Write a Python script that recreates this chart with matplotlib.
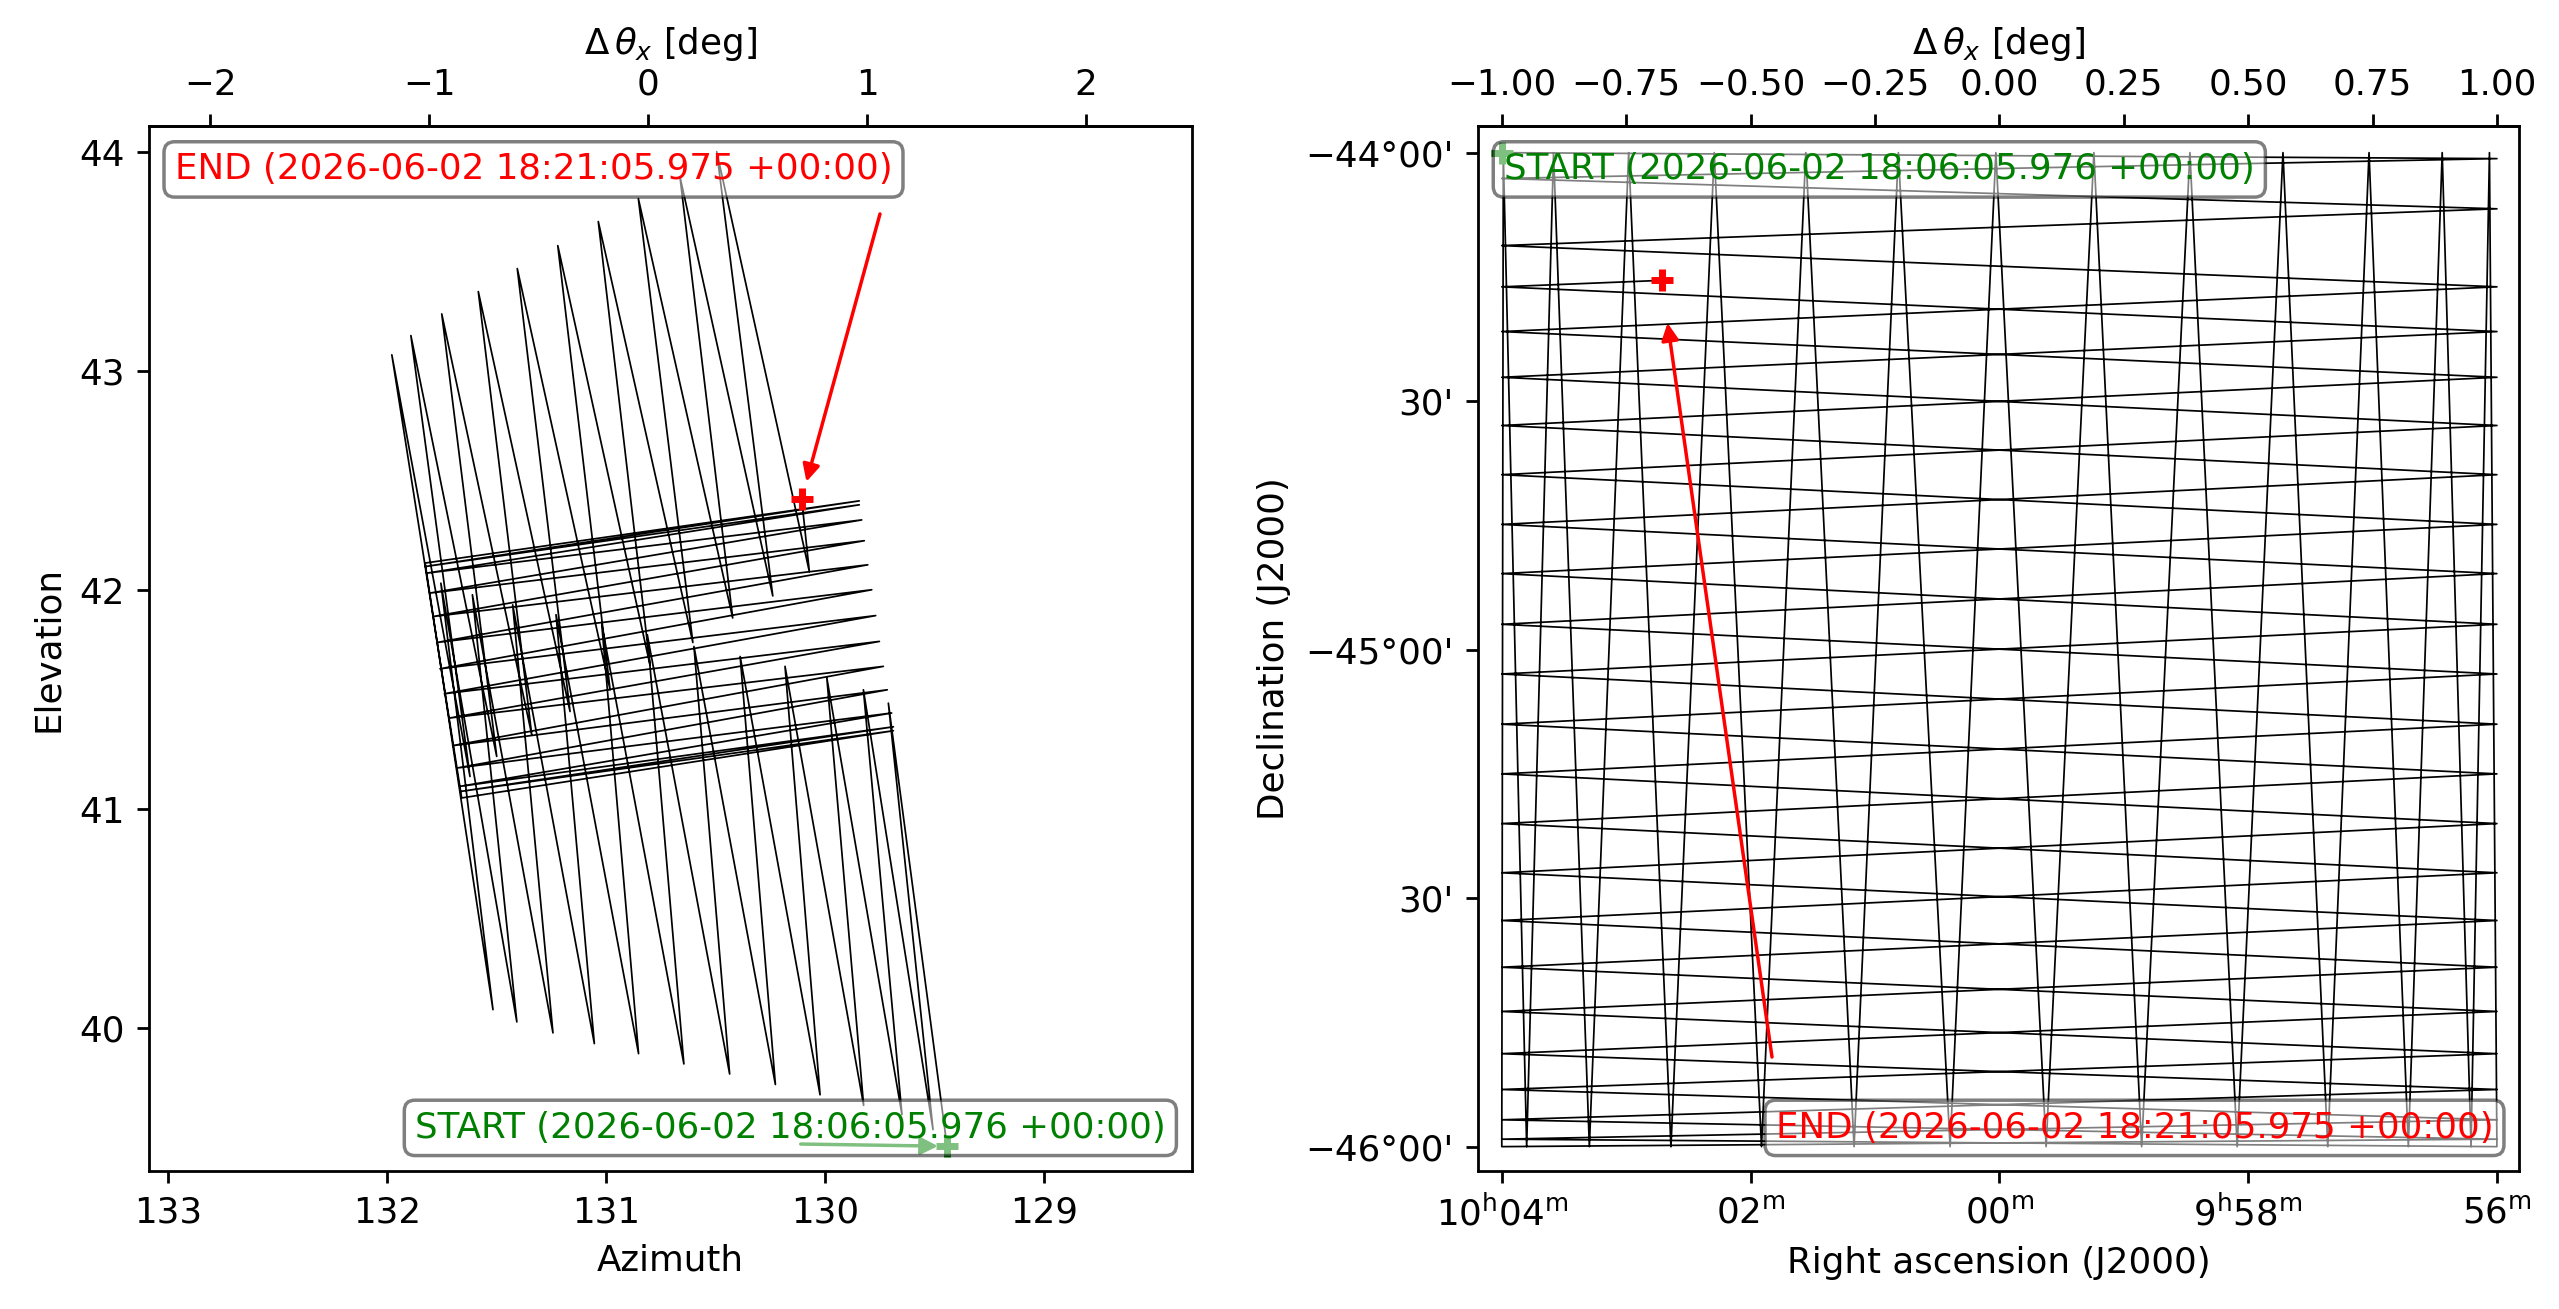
import matplotlib
matplotlib.use("Agg")
import matplotlib.pyplot as plt

plt.rcParams["font.size"] = 10.25

# time stamps of the two ends of the scan
t_start = "2026-06-02 18:06:05.976 +00:00"
t_end = "2026-06-02 18:21:05.975 +00:00"

# ---------------- sky frame (right panel), turning points in deg ----------------
# 1) rows along RA, stepping south
rows_ra = [151.0, 149.0, 151.0, 149.0, 151.0, 149.0, 151.0, 149.0, 151.0,
           149.0, 151.0, 149.0, 151.0, 149.0, 151.0, 149.0, 151.0, 149.0,
           151.0, 149.0, 151.0, 149.0, 151.0, 149.0, 151.0, 149.0]
rows_dec = [-44.000, -44.012, -44.052, -44.113, -44.187, -44.270, -44.360,
            -44.452, -44.549, -44.648, -44.748, -44.847, -44.949, -45.049,
            -45.150, -45.250, -45.350, -45.449, -45.545, -45.639, -45.728,
            -45.813, -45.885, -45.946, -45.985, -46.000]
# 2) columns along Dec, stepping back to the east
cols_ra = [149.015, 149.052, 149.110, 149.178, 149.257, 149.340, 149.430,
           149.522, 149.617, 149.714, 149.810, 149.906, 150.007, 150.099,
           150.203, 150.292, 150.389, 150.478, 150.573, 150.660, 150.745,
           150.824, 150.896, 150.950, 150.997, 151.000]
cols_dec = [-44.0, -46.0, -44.0, -46.0, -44.0, -46.0, -44.0, -46.0, -44.0,
            -46.0, -44.0, -46.0, -44.0, -46.0, -44.0, -46.0, -44.0, -46.0,
            -44.0, -46.0, -44.0, -46.0, -44.0, -46.0, -44.0, -46.0]
# 3) rows along RA again, stepping north (stops mid row)
back_ra = [149.0, 151.0, 149.0, 151.0, 149.0, 151.0, 149.0, 151.0, 149.0,
           151.0, 149.0, 151.0, 149.0, 151.0, 149.0, 151.0, 149.0, 151.0,
           149.0, 151.0, 150.679]
back_dec = [-45.985, -45.946, -45.885, -45.813, -45.728, -45.639, -45.545,
            -45.449, -45.350, -45.250, -45.150, -45.049, -44.949, -44.847,
            -44.748, -44.648, -44.549, -44.452, -44.360, -44.270, -44.257]

# ---------------- horizon frame (left panel), same turning points ----------------
rows_az = [129.443, 129.711, 129.507, 129.825, 129.649, 129.992, 129.824,
           130.183, 130.023, 130.388, 130.227, 130.599, 130.436, 130.812,
           130.645, 131.020, 130.852, 131.229, 131.054, 131.427, 131.243,
           131.611, 131.408, 131.755, 131.517, 131.827]
rows_el = [39.460, 41.484, 39.536, 41.545, 39.605, 41.599, 39.647, 41.652,
           39.695, 41.697, 39.742, 41.743, 39.790, 41.796, 39.836, 41.842,
           39.883, 41.888, 39.929, 41.933, 39.978, 41.979, 40.028, 42.032,
           40.084, 42.124]
cols_az = [129.844, 131.827, 129.844, 131.819, 129.833, 131.804, 129.821,
           131.789, 129.805, 131.774, 129.787, 131.759, 129.769, 131.739,
           129.752, 131.716, 129.734, 131.701, 129.716, 131.680, 129.696,
           131.667, 129.688, 131.663, 129.688, 131.660]
cols_el = [42.408, 42.108, 42.390, 42.078, 42.321, 41.987, 42.226, 41.880,
           42.116, 41.761, 42.002, 41.641, 41.884, 41.527, 41.766, 41.416,
           41.652, 41.290, 41.545, 41.188, 41.439, 41.104, 41.376, 41.081,
           41.358, 41.051]
back_az = [131.979, 131.622, 131.892, 131.500, 131.751, 131.340, 131.584,
           131.165, 131.406, 130.982, 131.221, 130.800, 131.036, 130.604,
           130.853, 130.422, 130.663, 130.239, 130.495, 130.072, 130.107]
back_el = [43.075, 41.149, 43.163, 41.241, 43.262, 41.340, 43.364, 41.446,
           43.469, 41.545, 43.574, 41.659, 43.684, 41.761, 43.789, 41.873,
           43.889, 41.974, 44.003, 42.085, 42.416]

# centre used for the offset axis on top
az0 = 130.808
ra0 = 150.0

ra_ticks = [151.0, 150.5, 150.0, 149.5, 149.0]
ra_labels = [r"$10^\mathrm{h}04^\mathrm{m}$", r"$02^\mathrm{m}$",
             r"$00^\mathrm{m}$", r"$9^\mathrm{h}58^\mathrm{m}$",
             r"$56^\mathrm{m}$"]
dec_ticks = [-44.0, -44.5, -45.0, -45.5, -46.0]
dec_labels = ["\u221244\u00b000'", "30'", "\u221245\u00b000'", "30'",
              "\u221246\u00b000'"]

path_az = rows_az + cols_az + back_az
path_el = rows_el + cols_el + back_el
path_ra = rows_ra + cols_ra + back_ra
path_dec = rows_dec + cols_dec + back_dec

fig = plt.figure(figsize=(2559 / 250, 1309 / 250), dpi=250)
ax1 = fig.add_axes([0.05807, 0.10543, 0.40766, 0.79808])
ax2 = fig.add_axes([0.57753, 0.10543, 0.40696, 0.79808])

box = dict(boxstyle="round", facecolor="white", alpha=0.5)


def mark_ends(ax, x, y, start_pos, end_pos, start_tail, end_tail,
              start_shrink, end_shrink):
    ax.plot(x[0], y[0], "+", color="green", ms=6.5, mew=2, zorder=2.5)
    ax.plot(x[-1], y[-1], "+", color="red", ms=6.5, mew=2, zorder=2.5)
    if start_tail is not None:
        ax.annotate("", xy=(x[0], y[0]), xytext=start_tail,
                    textcoords="axes fraction", zorder=3,
                    arrowprops=dict(arrowstyle="-|>", color="green", lw=1,
                                    shrinkA=0, shrinkB=start_shrink))
    ax.annotate("", xy=(x[-1], y[-1]), xytext=end_tail,
                textcoords="axes fraction", zorder=3,
                arrowprops=dict(arrowstyle="-|>", color="red", lw=1,
                                shrinkA=0, shrinkB=end_shrink))
    sx, sy, sha, sva = start_pos
    ex, ey, eha, eva = end_pos
    ax.text(sx, sy, f"START ({t_start})", transform=ax.transAxes, color="green",
            ha=sha, va=sva, bbox=box, zorder=4)
    ax.text(ex, ey, f"END ({t_end})", transform=ax.transAxes, color="red",
            ha=eha, va=eva, bbox=box, zorder=4)


# left: horizon frame
ax1.plot(path_az, path_el, color="black", lw=0.5)
ax1.set_xlim(133.09, 128.325)
ax1.set_ylim(39.347, 44.119)
ax1.set_xticks([133, 132, 131, 130, 129])
ax1.set_yticks([40, 41, 42, 43, 44])
ax1.set_xlabel("Azimuth")
ax1.set_ylabel("Elevation")
top1 = ax1.secondary_xaxis("top", functions=(lambda a: az0 - a,
                                             lambda d: az0 - d))
top1.set_xticks([-2, -1, 0, 1, 2])
top1.set_xlabel(r"$\Delta\,\theta_x$ [deg]")
mark_ends(ax1, path_az, path_el,
          (0.975, 0.025, "right", "bottom"), (0.025, 0.975, "left", "top"),
          (0.6251, 0.0258), (0.7011, 0.9161), 2.6, 5.2)

# right: sky frame
ax2.plot(path_ra, path_dec, color="black", lw=0.5)
ax2.set_xlim(151.048, 148.955)
ax2.set_ylim(-46.049, -43.947)
ax2.set_xticks(ra_ticks)
ax2.set_xticklabels(ra_labels)
ax2.set_yticks(dec_ticks)
ax2.set_yticklabels(dec_labels)
ax2.set_xlabel("Right ascension (J2000)")
ax2.set_ylabel("Declination (J2000)")
top2 = ax2.secondary_xaxis("top", functions=(lambda a: ra0 - a,
                                             lambda d: ra0 - d))
top2.set_xticks([-1.0, -0.75, -0.5, -0.25, 0.0, 0.25, 0.5, 0.75, 1.0])
top2.set_xlabel(r"$\Delta\,\theta_x$ [deg]")
mark_ends(ax2, path_ra, path_dec,
          (0.025, 0.975, "left", "top"), (0.975, 0.025, "right", "bottom"),
          None, (0.2824, 0.1091), 0, 12.4)

fig.savefig("out.png", dpi=250)
